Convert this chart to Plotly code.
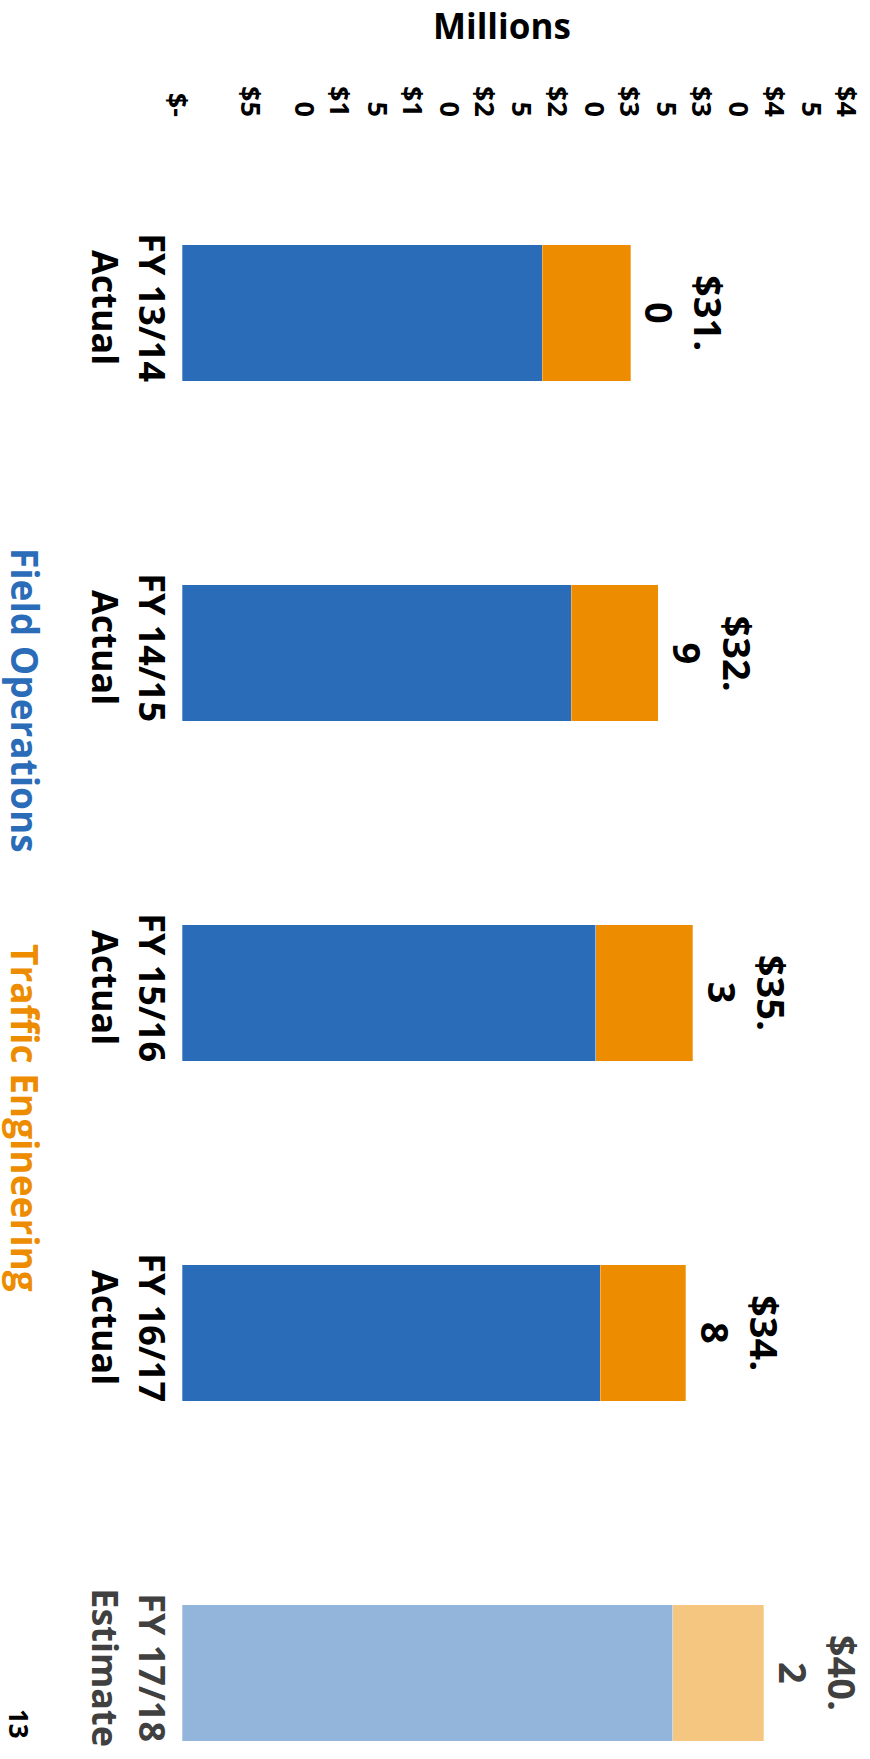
import plotly.graph_objects as go

# Fiscal-year spending, in millions of dollars
years = ["FY 13/14", "FY 14/15", "FY 15/16", "FY 16/17", "FY 17/18"]
kinds = ["Actual", "Actual", "Actual", "Actual", "Estimate"]
field_operations = [24.9, 26.9, 28.6, 28.9, 33.9]
traffic_engineering = [6.1, 6.0, 6.7, 5.9, 6.3]
series_names = ["Field Operations", "Traffic Engineering"]

tick_values = [0, 5, 10, 15, 20, 25, 30, 35, 40, 45]
tick_labels = ["$-", "$5", "$1<br>0", "$1<br>5", "$2<br>0", "$2<br>5",
               "$3<br>0", "$3<br>5", "$4<br>0", "$4<br>5"]
axis_title = "Millions"
page_number = "13"

FONT = "Open Sans"
BLUE, ORANGE = "#2B6CB9", "#EE8C00"
BLUE_EST, ORANGE_EST = "#94B5DB", "#F5C67F"
TEXT_DARK, TEXT_EST = "#000000", "#404040"

is_estimate = [k == "Estimate" for k in kinds]
blue_cols = [BLUE_EST if e else BLUE for e in is_estimate]
orange_cols = [ORANGE_EST if e else ORANGE for e in is_estimate]
text_cols = [TEXT_EST if e else TEXT_DARK for e in is_estimate]

cat_text = [f'<span style="color:{c}">{y}<br>{k}</span>'
            for y, k, c in zip(years, kinds, text_cols)]

edge = dict(width=1, color="rgba(255,255,255,0.3)")
fig = go.Figure()
fig.add_trace(go.Bar(
    y=years, x=field_operations, orientation="h", name=series_names[0],
    marker=dict(color=blue_cols, line=edge), hoverinfo="x+y",
))
fig.add_trace(go.Bar(
    y=years, x=traffic_engineering, orientation="h", name=series_names[1],
    marker=dict(color=orange_cols, line=edge), hoverinfo="x+y",
))

# Total labels at the end of each stacked bar, wrapped like "$31.\n0"
for y, fo, te, c in zip(years, field_operations, traffic_engineering, text_cols):
    total = round(fo + te, 1)
    s = f"${total:.1f}"
    head, tail = s[:-1], s[-1]
    fig.add_annotation(
        x=total, y=y, xref="x", yref="y", text=f"{head}<br>{tail}",
        textangle=90, showarrow=False, xanchor="left", yanchor="middle",
        xshift=2, font=dict(family=FONT, size=38, color=c, weight="bold"),
    )

# Plot frame in pixels
W, H, L, R, T, B = 870, 1759, 182, 34, 143, 0
pw, ph = W - L - R, H - T - B

# Series key written sideways along the left edge
legend_pos = [(26, 700), (26, 1118)]
legend_cols = [BLUE, ORANGE]
for name, (px, py), col in zip(series_names, legend_pos, legend_cols):
    fig.add_annotation(
        x=(px - L) / pw, y=(H - B - py) / ph, xref="paper", yref="paper",
        text=name, textangle=90, showarrow=False, xanchor="center", yanchor="middle",
        font=dict(family=FONT, size=37, color=col, weight="bold"),
    )

fig.add_annotation(
    x=(502 - L) / pw, y=(H - B - 26) / ph, xref="paper", yref="paper",
    text=axis_title, showarrow=False, xanchor="center", yanchor="middle",
    font=dict(family=FONT, size=35, color="#000000", weight="bold"),
)
fig.add_annotation(
    x=(19 - L) / pw, y=(H - B - 1724) / ph, xref="paper", yref="paper",
    text=page_number, textangle=90, showarrow=False, xanchor="center", yanchor="middle",
    font=dict(family=FONT, size=26, color="#000000", weight="bold"),
)

fig.update_layout(
    width=W, height=H, barmode="stack", bargap=0.598,
    margin=dict(l=L, r=R, t=T, b=B, autoexpand=False),
    plot_bgcolor="white", paper_bgcolor="white", showlegend=False,
    font=dict(family=FONT, color="#000000"),
)
fig.update_xaxes(
    side="top", range=[0, 45.2], tickvals=tick_values, ticktext=tick_labels,
    tickangle=90, showgrid=False, zeroline=False, showline=False, ticks="",
    ticklabelstandoff=21, ticklabelshift=-5, ticklabeloverflow="allow",
    automargin=False,
    tickfont=dict(family=FONT, size=27, color="#000000", weight="bold"),
)
fig.update_yaxes(
    type="category", categoryorder="array", categoryarray=years,
    range=[4.253, -0.5], tickvals=years, ticktext=cat_text, tickangle=90,
    showgrid=False, zeroline=False, showline=False, ticks="", automargin=False,
    ticklabelstandoff=6,
    tickfont=dict(family=FONT, size=36, color="#000000", weight="bold"),
)

fig.write_html("out.html")
